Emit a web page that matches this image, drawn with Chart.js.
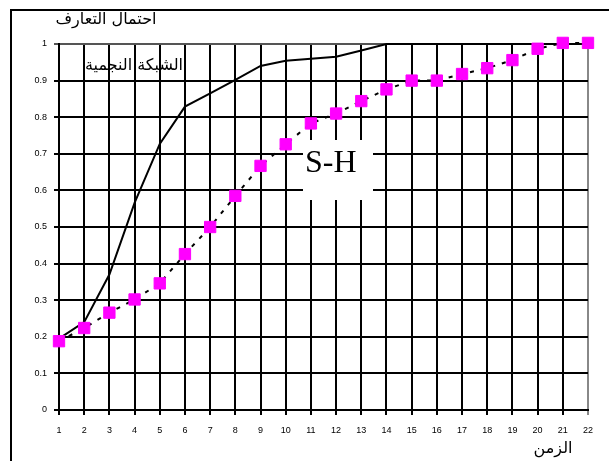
<!DOCTYPE html>
<html>
<head>
<meta charset="utf-8">
<script src="https://cdn.jsdelivr.net/npm/chart.js@4"></script>
<style>
    body { margin: 0; background: #fff; }
    #wrap { width: 609px; height: 461px; }
</style>
</head>
<body>
<div id="wrap"><canvas id="chart" width="609" height="461"></canvas></div>
<script>
// Time steps on the x axis
const timeSteps = ['1', '2', '3', '4', '5', '6', '7', '8', '9', '10', '11', '12', '13', '14', '15', '16', '17', '18', '19', '20', '21', '22'];

// Star network (solid line)
const starValues = [0.195, 0.24, 0.37, 0.566, 0.727, 0.829, 0.865, 0.902, 0.94, 0.954, 0.96, 0.965, 0.982, 1, 1, 1, 1, 1, 1, 1, 1, 1];

// S-H (dashed line with magenta squares)
const shValues = [0.188, 0.224, 0.266, 0.302, 0.346, 0.426, 0.5, 0.585, 0.667, 0.726, 0.783, 0.81, 0.844, 0.876, 0.9, 0.9, 0.918, 0.934, 0.956, 0.987, 1.003, 1.003];

const yTickLabels = ['0', '0.1', '0.2', '0.3', '0.4', '0.5', '0.6', '0.7', '0.8', '0.9', '1'];

const yTitle = 'احتمال التعارف';
const xTitle = 'الزمن';
const starLabel = 'الشبكة النجمية';
const shLabel = 'S-H';

const arabicFont = "'DejaVu Sans', Arial, sans-serif";

// Frame, captions and the white box behind "S-H"
const decorPlugin = {
    id: 'decor',
    beforeDraw(chart) {
        const ctx = chart.ctx;
        ctx.save();
        ctx.fillStyle = '#fff';
        ctx.fillRect(0, 0, chart.width, chart.height);
        ctx.strokeStyle = '#000';
        ctx.lineWidth = 2;
        ctx.beginPath();
        ctx.moveTo(11, chart.height + 2);
        ctx.lineTo(11, 10);
        ctx.lineTo(chart.width + 2, 10);
        ctx.stroke();
        ctx.restore();
    },
    beforeDatasetsDraw(chart) {
        const ctx = chart.ctx;
        ctx.save();
        ctx.fillStyle = '#fff';
        ctx.fillRect(303, 140, 70, 60);
        ctx.restore();
    },
    afterDraw(chart) {
        const ctx = chart.ctx;
        ctx.save();
        ctx.fillStyle = '#000';
        ctx.textBaseline = 'middle';
        ctx.textAlign = 'center';
        ctx.font = '16px ' + arabicFont;
        ctx.fillText(yTitle, 106, 20);
        ctx.fillText(starLabel, 134, 66);
        ctx.fillText(xTitle, 553, 449);

        ctx.textAlign = 'left';
        ctx.textBaseline = 'alphabetic';
        ctx.font = "32px 'Liberation Serif', 'Times New Roman', serif";
        ctx.fillText(shLabel, 305, 172);
        ctx.restore();
    }
};

const ctx = document.getElementById('chart').getContext('2d');
new Chart(ctx, {
    type: 'line',
    data: {
        labels: timeSteps,
        datasets: [
            {
                label: 'S-H',
                data: shValues,
                borderColor: '#000',
                borderWidth: 2,
                borderDash: [4, 7],
                tension: 0,
                pointStyle: 'rect',
                pointRadius: 8,
                pointBorderWidth: 1,
                pointBackgroundColor: '#ff00ff',
                pointBorderColor: '#ff00ff',
                clip: false
            },
            {
                label: 'star',
                data: starValues,
                borderColor: '#000',
                borderWidth: 2,
                tension: 0,
                pointRadius: 0,
                clip: false
            }
        ]
    },
    options: {
        responsive: false,
        animation: false,
        events: [],
        layout: {
            padding: { top: 44, right: 21, left: 0, bottom: 0 }
        },
        plugins: {
            legend: { display: false },
            tooltip: { enabled: false }
        },
        scales: {
            x: {
                offset: false,
                afterFit: (scale) => { scale.height = 51; },
                grid: {
                    color: (c) => (c.index === timeSteps.length - 1 ? '#888' : '#000'),
                    lineWidth: 2,
                    tickLength: 5
                },
                border: { color: '#000', width: 2 },
                ticks: {
                    color: '#000',
                    font: { family: "'Liberation Sans', Arial", size: 9 },
                    padding: 10,
                    maxRotation: 0,
                    autoSkip: false
                }
            },
            y: {
                min: 0,
                max: 1,
                afterFit: (scale) => { scale.width = 59; },
                grid: {
                    color: (c) => (c.index === yTickLabels.length - 1 ? '#555' : '#000'),
                    lineWidth: 2,
                    tickLength: 5
                },
                border: { color: '#000', width: 2 },
                ticks: {
                    stepSize: 0.1,
                    color: '#000',
                    font: { family: "'Liberation Sans', Arial", size: 9 },
                    padding: 7,
                    callback: (value, index) => yTickLabels[index]
                }
            }
        }
    },
    plugins: [decorPlugin]
});
</script>
</body>
</html>
